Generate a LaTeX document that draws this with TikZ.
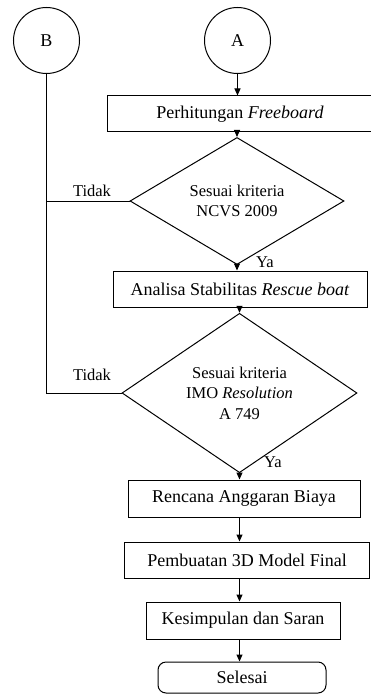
\documentclass[tikz,border=0pt]{standalone}
\usepackage{fontspec}
\setmainfont{Liberation Serif}
\usetikzlibrary{shapes,arrows.meta,positioning,calc}

\begin{document}
\begin{tikzpicture}[x=1pt, y=-1pt, line width=1pt,
    box/.style={rectangle, draw, minimum height=36pt, inner sep=0pt, font=\fontsize{18}{21}\selectfont},
    decision/.style={diamond, draw, inner sep=0pt, align=center, font=\fontsize{16.5}{20.5}\selectfont},
    conn/.style={circle, draw, minimum size=66pt, inner sep=0pt, font=\fontsize{18}{21}\selectfont},
    lbl/.style={inner sep=0pt, font=\fontsize{16.5}{20}\selectfont},
    >={Triangle[length=7pt, width=6pt]}]

    \useasboundingbox (0,0) rectangle (370,695);

    \node[conn] (B) at (46.5,40.5) {B};
    \node[conn] (A) at (237.5,40.5) {A};

    \node[box, minimum width=266pt] (fb) at (240,114) {Perhitungan \textit{Freeboard}};
    \node[decision, minimum width=214pt, minimum height=92pt] (ncvs) at (237,201) {Sesuai kriteria\\NCVS 2009};
    \node[box, minimum width=254pt] (stab) at (240,289) {Analisa Stabilitas \textit{Rescue boat}};
    \node[decision, minimum width=235pt, minimum height=128pt] (imo) at (239.5,393) {Sesuai kriteria\\IMO \textit{Resolution}\\A 749};
    \node[box, minimum width=232pt, minimum height=37pt] (rab) at (244,498.5) {Rencana Anggaran Biaya};
    \node[box, minimum width=245pt] (model) at (247,560) {Pembuatan 3D Model Final};
    \node[box, minimum width=194pt, minimum height=37pt] (kes) at (243,620.5) {Kesimpulan dan Saran};
    \node[box, rounded corners=8pt, minimum width=168pt, minimum height=31pt] (end) at (242,677.5) {Selesai};

    \node[lbl] (no1) at (92,191) {Tidak};
    \node[lbl] (no2) at (92,375) {Tidak};
    \node[lbl] (yes1) at (265,262) {Ya};
    \node[lbl] (yes2) at (273,462) {Ya};

    % main flow
    \draw[->] (A.south) -- (A.south |- fb.north);
    \draw[->] (fb.south -| ncvs) -- (ncvs.north);
    \draw[->] (ncvs.south) -- (ncvs.south |- stab.north);
    \draw[->] (stab.south -| imo) -- (imo.north);
    \draw[->] (imo.south) -- (imo.south |- rab.north);
    \draw[->] (rab.south -| imo) -- (model.north -| imo);
    \draw[->] (model.south -| imo) -- (kes.north -| imo);
    \draw[->] (kes.south -| imo) -- (end.north -| imo);

    % back to B
    \draw (B.south) |- (imo.west);
    \draw (ncvs.west) -- (ncvs.west -| B);
\end{tikzpicture}
\end{document}
